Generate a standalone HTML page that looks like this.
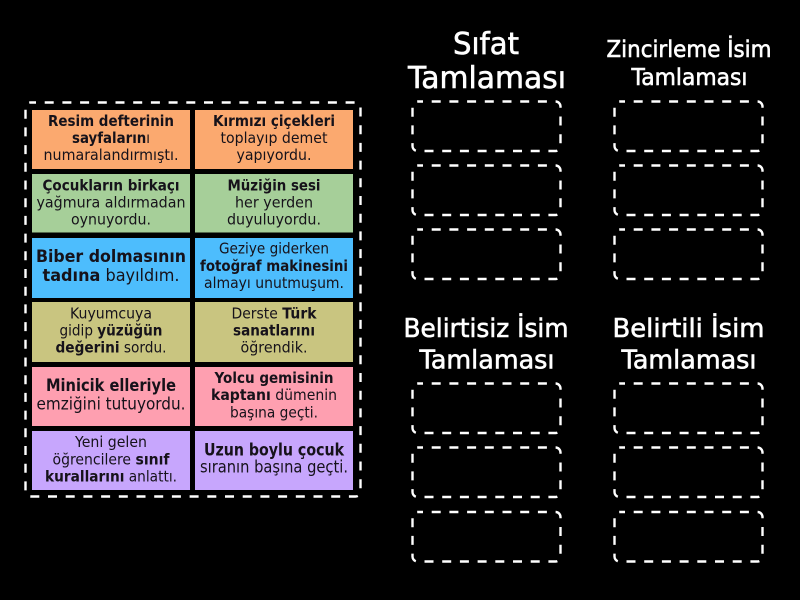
<!DOCTYPE html>
<html><head><meta charset="utf-8"><style>
html,body{margin:0;padding:0;background:#000;width:800px;height:600px;overflow:hidden}
svg{display:block}
text{font-family:"DejaVu Sans","Liberation Sans",sans-serif;text-anchor:middle;font-size:14.8px;fill:#16121a;white-space:pre}
tspan.b,text.b{font-weight:bold}
text.h{fill:#fff;stroke:#fff;stroke-width:.6px}
text.w{font-size:16.4px}
rect.d{fill:none;stroke:#fff;stroke-width:2.4;stroke-dasharray:9 8.7;stroke-dashoffset:3.5}
</style></head><body>
<svg width="800" height="600" viewBox="0 0 800 600" xmlns="http://www.w3.org/2000/svg">
<rect width="800" height="600" fill="#000"/>
<rect class="d" x="25.5" y="102.5" width="335" height="394" rx="5"/>
<rect x="32" y="110" width="158" height="59" fill="#fba96f"/><rect x="195" y="110" width="158" height="59" fill="#fba96f"/>
<rect x="32" y="174" width="158" height="58.500" fill="#a6cf99"/><rect x="195" y="174" width="158" height="58.500" fill="#a6cf99"/>
<rect x="32" y="238" width="158" height="60" fill="#4dbdfd"/><rect x="195" y="238" width="158" height="60" fill="#4dbdfd"/>
<rect x="32" y="302" width="158" height="60" fill="#c9c580"/><rect x="195" y="302" width="158" height="60" fill="#c9c580"/>
<rect x="32" y="367" width="158" height="59" fill="#fe9fb0"/><rect x="195" y="367" width="158" height="59" fill="#fe9fb0"/>
<rect x="32" y="431" width="158" height="59" fill="#c7a6fd"/><rect x="195" y="431" width="158" height="59" fill="#c7a6fd"/>

<text class="b" x="111" y="126" textLength="126" lengthAdjust="spacingAndGlyphs">Resim defterinin</text>
<text x="111" y="143" textLength="78" lengthAdjust="spacingAndGlyphs"><tspan class="b">sayfaların</tspan>ı</text>
<text x="111" y="160" textLength="135" lengthAdjust="spacingAndGlyphs">numaralandırmıştı.</text>
<text class="b" x="274" y="126" textLength="122" lengthAdjust="spacingAndGlyphs">Kırmızı çiçekleri</text>
<text x="274" y="143" textLength="107" lengthAdjust="spacingAndGlyphs">toplayıp demet</text>
<text x="274" y="160" textLength="75" lengthAdjust="spacingAndGlyphs">yapıyordu.</text>

<text class="b" x="111" y="190.500" textLength="137" lengthAdjust="spacingAndGlyphs">Çocukların birkaçı</text>
<text x="111" y="207.500" textLength="149" lengthAdjust="spacingAndGlyphs">yağmura aldırmadan</text>
<text x="111" y="224.500" textLength="80" lengthAdjust="spacingAndGlyphs">oynuyordu.</text>
<text class="b" x="274" y="190.500" textLength="93" lengthAdjust="spacingAndGlyphs">Müziğin sesi</text>
<text x="274" y="207.500" textLength="78" lengthAdjust="spacingAndGlyphs">her yerden</text>
<text x="274" y="224.500" textLength="94" lengthAdjust="spacingAndGlyphs">duyuluyordu.</text>

<text class="b w" x="111" y="262" textLength="150" lengthAdjust="spacingAndGlyphs">Biber dolmasının</text>
<text class="w" x="111" y="281" textLength="137" lengthAdjust="spacingAndGlyphs"><tspan class="b">tadına</tspan> bayıldım.</text>
<text x="274" y="253.500" textLength="110" lengthAdjust="spacingAndGlyphs">Geziye giderken</text>
<text class="b" x="274" y="271" textLength="148" lengthAdjust="spacingAndGlyphs">fotoğraf makinesini</text>
<text x="274" y="288" textLength="140" lengthAdjust="spacingAndGlyphs">almayı unutmuşum.</text>

<text x="111" y="318.500" textLength="82" lengthAdjust="spacingAndGlyphs">Kuyumcuya</text>
<text x="111" y="335.500" textLength="103" lengthAdjust="spacingAndGlyphs">gidip <tspan class="b">yüzüğün</tspan></text>
<text x="111" y="352.500" textLength="111" lengthAdjust="spacingAndGlyphs"><tspan class="b">değerini</tspan> sordu.</text>
<text x="274" y="318.500" textLength="85" lengthAdjust="spacingAndGlyphs">Derste <tspan class="b">Türk</tspan></text>
<text class="b" x="274" y="335.500" textLength="82" lengthAdjust="spacingAndGlyphs">sanatlarını</text>
<text x="274" y="352.500" textLength="67" lengthAdjust="spacingAndGlyphs">öğrendik.</text>

<text class="b w" x="111" y="391" textLength="130" lengthAdjust="spacingAndGlyphs">Minicik elleriyle</text>
<text class="w" x="111" y="409.500" textLength="149" lengthAdjust="spacingAndGlyphs">emziğini tutuyordu.</text>
<text class="b" x="274" y="383" textLength="119" lengthAdjust="spacingAndGlyphs">Yolcu gemisinin</text>
<text x="274" y="400" textLength="126" lengthAdjust="spacingAndGlyphs"><tspan class="b">kaptanı</tspan> dümenin</text>
<text x="274" y="417.500" textLength="88" lengthAdjust="spacingAndGlyphs">başına geçti.</text>

<text x="111" y="447" textLength="72" lengthAdjust="spacingAndGlyphs">Yeni gelen</text>
<text x="111" y="464.500" textLength="117" lengthAdjust="spacingAndGlyphs">öğrencilere <tspan class="b">sınıf</tspan></text>
<text x="111" y="481.500" textLength="132" lengthAdjust="spacingAndGlyphs"><tspan class="b">kurallarını</tspan> anlattı.</text>
<text class="b w" x="274" y="455.500" textLength="140" lengthAdjust="spacingAndGlyphs">Uzun boylu çocuk</text>
<text class="w" x="274" y="472.500" textLength="148" lengthAdjust="spacingAndGlyphs">sıranın başına geçti.</text>

<text class="h" x="486" y="54" style="font-size:30px" textLength="66" lengthAdjust="spacingAndGlyphs">Sıfat</text>
<text class="h" x="487" y="88" style="font-size:30px" textLength="158" lengthAdjust="spacingAndGlyphs">Tamlaması</text>
<text class="h" x="689" y="57" style="font-size:23px" textLength="165" lengthAdjust="spacingAndGlyphs">Zincirleme İsim</text>
<text class="h" x="689.500" y="85" style="font-size:23px" textLength="116" lengthAdjust="spacingAndGlyphs">Tamlaması</text>
<text class="h" x="486" y="337" style="font-size:25.500px" textLength="165" lengthAdjust="spacingAndGlyphs">Belirtisiz İsim</text>
<text class="h" x="487" y="368.500" style="font-size:25.500px" textLength="135" lengthAdjust="spacingAndGlyphs">Tamlaması</text>
<text class="h" x="688.500" y="337" style="font-size:25.500px" textLength="152" lengthAdjust="spacingAndGlyphs">Belirtili İsim</text>
<text class="h" x="689" y="368.500" style="font-size:25.500px" textLength="135" lengthAdjust="spacingAndGlyphs">Tamlaması</text>

<rect class="d" x="412.500" y="101.500" width="148" height="49.500" rx="5"/>
<rect class="d" x="412.500" y="165.500" width="148" height="49.500" rx="5"/>
<rect class="d" x="412.500" y="229.500" width="148" height="49.500" rx="5"/>
<rect class="d" x="614.500" y="101.500" width="148" height="49.500" rx="5"/>
<rect class="d" x="614.500" y="165.500" width="148" height="49.500" rx="5"/>
<rect class="d" x="614.500" y="229.500" width="148" height="49.500" rx="5"/>
<rect class="d" x="412.500" y="383.500" width="148" height="49.500" rx="5"/>
<rect class="d" x="412.500" y="447.500" width="148" height="49.500" rx="5"/>
<rect class="d" x="412.500" y="512" width="148" height="49.500" rx="5"/>
<rect class="d" x="614.500" y="383.500" width="148" height="49.500" rx="5"/>
<rect class="d" x="614.500" y="447.500" width="148" height="49.500" rx="5"/>
<rect class="d" x="614.500" y="512" width="148" height="49.500" rx="5"/>
</svg>
</body></html>
